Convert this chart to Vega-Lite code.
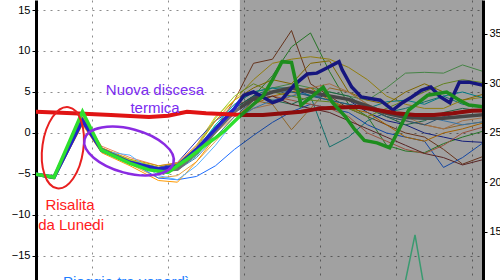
{
"$schema": "https://vega.github.io/schema/vega-lite/v6.json",
"width": 447, "height": 280,
"autosize": {"type": "none"},
"padding": {"left": 36, "top": 0, "right": 17, "bottom": 0},
"background": "white",
"config": {"view": {"stroke": null}},
"datasets": {
"members": [
{"m":"M1","h":6,"v":-5},{"m":"M1","h":12,"v":-5.5},{"m":"M1","h":21,"v":1.5},{"m":"M1","h":27,"v":-2},{"m":"M1","h":36,"v":-3.6},{"m":"M1","h":45,"v":-4.6},{"m":"M1","h":51,"v":-4.2},{"m":"M1","h":57,"v":-2.5},{"m":"M1","h":63,"v":0.5},{"m":"M1","h":69,"v":4},{"m":"M1","h":75,"v":8.5},{"m":"M1","h":81,"v":9},{"m":"M1","h":87,"v":12.5},{"m":"M1","h":93,"v":6},{"m":"M1","h":99,"v":4.5},{"m":"M1","h":105,"v":3},{"m":"M1","h":111,"v":2},{"m":"M1","h":117,"v":1},{"m":"M1","h":123,"v":0},{"m":"M1","h":129,"v":-0.5},{"m":"M1","h":135,"v":-2},{"m":"M1","h":141,"v":-3.8},{"m":"M1","h":150,"v":-2.5},
{"m":"M2","h":6,"v":-5.1},{"m":"M2","h":12,"v":-5.6},{"m":"M2","h":21,"v":1.8},{"m":"M2","h":27,"v":-2.1},{"m":"M2","h":36,"v":-3.4},{"m":"M2","h":45,"v":-4.4},{"m":"M2","h":51,"v":-4},{"m":"M2","h":57,"v":-2},{"m":"M2","h":63,"v":0.8},{"m":"M2","h":69,"v":3},{"m":"M2","h":75,"v":4.5},{"m":"M2","h":81,"v":7},{"m":"M2","h":87,"v":10.5},{"m":"M2","h":93,"v":12.2},{"m":"M2","h":99,"v":7.5},{"m":"M2","h":105,"v":3.5},{"m":"M2","h":111,"v":2},{"m":"M2","h":117,"v":-1.5},{"m":"M2","h":123,"v":-2.2},{"m":"M2","h":129,"v":-2.4},{"m":"M2","h":135,"v":-1.3},{"m":"M2","h":141,"v":-0.5},{"m":"M2","h":150,"v":0.5},
{"m":"M3","h":6,"v":-5},{"m":"M3","h":12,"v":-5.4},{"m":"M3","h":21,"v":1.2},{"m":"M3","h":27,"v":-2.2},{"m":"M3","h":36,"v":-3.7},{"m":"M3","h":45,"v":-4.8},{"m":"M3","h":51,"v":-4.5},{"m":"M3","h":57,"v":-2.8},{"m":"M3","h":63,"v":0},{"m":"M3","h":69,"v":2.5},{"m":"M3","h":75,"v":4.5},{"m":"M3","h":81,"v":5.5},{"m":"M3","h":87,"v":5.5},{"m":"M3","h":93,"v":4.5},{"m":"M3","h":99,"v":-1.7},{"m":"M3","h":105,"v":-0.5},{"m":"M3","h":111,"v":1.5},{"m":"M3","h":117,"v":2.5},{"m":"M3","h":123,"v":3},{"m":"M3","h":129,"v":3.8},{"m":"M3","h":135,"v":4.5},{"m":"M3","h":141,"v":3.5},{"m":"M3","h":150,"v":3},
{"m":"M4","h":6,"v":-4.9},{"m":"M4","h":12,"v":-5.3},{"m":"M4","h":21,"v":1.4},{"m":"M4","h":27,"v":-2},{"m":"M4","h":36,"v":-3.8},{"m":"M4","h":45,"v":-5.5},{"m":"M4","h":51,"v":-5.2},{"m":"M4","h":57,"v":-3.5},{"m":"M4","h":63,"v":-1},{"m":"M4","h":69,"v":1.5},{"m":"M4","h":75,"v":4},{"m":"M4","h":81,"v":3.5},{"m":"M4","h":87,"v":0.4},{"m":"M4","h":93,"v":3},{"m":"M4","h":99,"v":5.5},{"m":"M4","h":105,"v":5},{"m":"M4","h":111,"v":3.5},{"m":"M4","h":117,"v":2},{"m":"M4","h":123,"v":1.5},{"m":"M4","h":129,"v":1},{"m":"M4","h":135,"v":0.5},{"m":"M4","h":141,"v":1},{"m":"M4","h":150,"v":1.5},
{"m":"M5","h":6,"v":-5},{"m":"M5","h":12,"v":-5.5},{"m":"M5","h":21,"v":2},{"m":"M5","h":27,"v":-1.8},{"m":"M5","h":36,"v":-3.3},{"m":"M5","h":45,"v":-4.2},{"m":"M5","h":51,"v":-3.8},{"m":"M5","h":57,"v":-1.5},{"m":"M5","h":63,"v":2},{"m":"M5","h":69,"v":4},{"m":"M5","h":75,"v":6.5},{"m":"M5","h":81,"v":8.5},{"m":"M5","h":87,"v":9},{"m":"M5","h":93,"v":9.3},{"m":"M5","h":99,"v":9},{"m":"M5","h":105,"v":8},{"m":"M5","h":111,"v":6.5},{"m":"M5","h":117,"v":4.5},{"m":"M5","h":123,"v":3.5},{"m":"M5","h":129,"v":3},{"m":"M5","h":135,"v":3},{"m":"M5","h":141,"v":4},{"m":"M5","h":150,"v":4.5},
{"m":"M6","h":6,"v":-5},{"m":"M6","h":12,"v":-5.4},{"m":"M6","h":21,"v":1.6},{"m":"M6","h":27,"v":-2},{"m":"M6","h":36,"v":-3.5},{"m":"M6","h":45,"v":-4.3},{"m":"M6","h":51,"v":-4},{"m":"M6","h":57,"v":-2},{"m":"M6","h":63,"v":1},{"m":"M6","h":69,"v":3.5},{"m":"M6","h":75,"v":5},{"m":"M6","h":81,"v":5.5},{"m":"M6","h":87,"v":6},{"m":"M6","h":93,"v":5.5},{"m":"M6","h":99,"v":5},{"m":"M6","h":105,"v":4.5},{"m":"M6","h":111,"v":4},{"m":"M6","h":117,"v":5.5},{"m":"M6","h":123,"v":7.3},{"m":"M6","h":129,"v":7.4},{"m":"M6","h":135,"v":7.3},{"m":"M6","h":141,"v":8.3},{"m":"M6","h":150,"v":7.2},
{"m":"M7","h":6,"v":-5},{"m":"M7","h":12,"v":-5.4},{"m":"M7","h":21,"v":1.2},{"m":"M7","h":27,"v":-2.3},{"m":"M7","h":36,"v":-3.5},{"m":"M7","h":45,"v":-5.5},{"m":"M7","h":51,"v":-5.7},{"m":"M7","h":57,"v":-5.3},{"m":"M7","h":63,"v":-4},{"m":"M7","h":69,"v":-2},{"m":"M7","h":75,"v":-0.3},{"m":"M7","h":81,"v":1.3},{"m":"M7","h":87,"v":2.6},{"m":"M7","h":93,"v":3.5},{"m":"M7","h":99,"v":3},{"m":"M7","h":105,"v":2.5},{"m":"M7","h":111,"v":1},{"m":"M7","h":117,"v":0},{"m":"M7","h":123,"v":-0.5},{"m":"M7","h":129,"v":-1},{"m":"M7","h":135,"v":-4.2},{"m":"M7","h":141,"v":-3},{"m":"M7","h":150,"v":-0.5},
{"m":"M8","h":6,"v":-5},{"m":"M8","h":12,"v":-5.5},{"m":"M8","h":21,"v":1.7},{"m":"M8","h":27,"v":-1.9},{"m":"M8","h":36,"v":-3.4},{"m":"M8","h":45,"v":-4.2},{"m":"M8","h":51,"v":-3.6},{"m":"M8","h":57,"v":-1},{"m":"M8","h":63,"v":1.5},{"m":"M8","h":69,"v":3},{"m":"M8","h":75,"v":4.5},{"m":"M8","h":81,"v":5},{"m":"M8","h":87,"v":5.5},{"m":"M8","h":93,"v":4.5},{"m":"M8","h":99,"v":4.5},{"m":"M8","h":105,"v":4},{"m":"M8","h":111,"v":2.5},{"m":"M8","h":117,"v":1.5},{"m":"M8","h":123,"v":1},{"m":"M8","h":129,"v":0},{"m":"M8","h":135,"v":-0.5},{"m":"M8","h":141,"v":-1},{"m":"M8","h":150,"v":-1.2},
{"m":"M9","h":6,"v":-5.1},{"m":"M9","h":12,"v":-5.6},{"m":"M9","h":21,"v":1},{"m":"M9","h":27,"v":-2.4},{"m":"M9","h":36,"v":-4},{"m":"M9","h":45,"v":-5.8},{"m":"M9","h":51,"v":-6},{"m":"M9","h":57,"v":-3.5},{"m":"M9","h":63,"v":-0.5},{"m":"M9","h":69,"v":2},{"m":"M9","h":75,"v":3.5},{"m":"M9","h":81,"v":4.5},{"m":"M9","h":87,"v":5},{"m":"M9","h":93,"v":5.5},{"m":"M9","h":99,"v":4},{"m":"M9","h":105,"v":3},{"m":"M9","h":111,"v":2.5},{"m":"M9","h":117,"v":1},{"m":"M9","h":123,"v":-0.5},{"m":"M9","h":129,"v":-1},{"m":"M9","h":135,"v":0},{"m":"M9","h":141,"v":0.5},{"m":"M9","h":150,"v":1.5},
{"m":"M10","h":6,"v":-5},{"m":"M10","h":12,"v":-5.3},{"m":"M10","h":21,"v":2.2},{"m":"M10","h":27,"v":-1.6},{"m":"M10","h":36,"v":-3},{"m":"M10","h":45,"v":-4},{"m":"M10","h":51,"v":-3.6},{"m":"M10","h":57,"v":-1.5},{"m":"M10","h":63,"v":1.5},{"m":"M10","h":69,"v":3.5},{"m":"M10","h":75,"v":4},{"m":"M10","h":81,"v":4.5},{"m":"M10","h":87,"v":4},{"m":"M10","h":93,"v":3.5},{"m":"M10","h":99,"v":3},{"m":"M10","h":105,"v":2},{"m":"M10","h":111,"v":0},{"m":"M10","h":117,"v":-1},{"m":"M10","h":123,"v":-2},{"m":"M10","h":129,"v":-2.5},{"m":"M10","h":135,"v":-1.5},{"m":"M10","h":141,"v":0},{"m":"M10","h":150,"v":1},
{"m":"M11","h":6,"v":-5},{"m":"M11","h":12,"v":-5.4},{"m":"M11","h":21,"v":1.5},{"m":"M11","h":27,"v":-2},{"m":"M11","h":36,"v":-3.6},{"m":"M11","h":45,"v":-4.5},{"m":"M11","h":51,"v":-4.2},{"m":"M11","h":57,"v":-2.2},{"m":"M11","h":63,"v":1},{"m":"M11","h":69,"v":3.5},{"m":"M11","h":75,"v":5},{"m":"M11","h":81,"v":5.5},{"m":"M11","h":87,"v":5},{"m":"M11","h":93,"v":4.6},{"m":"M11","h":99,"v":4},{"m":"M11","h":105,"v":3.5},{"m":"M11","h":111,"v":3},{"m":"M11","h":117,"v":3.8},{"m":"M11","h":123,"v":4},{"m":"M11","h":129,"v":3.5},{"m":"M11","h":135,"v":4.5},{"m":"M11","h":141,"v":5},{"m":"M11","h":150,"v":4},
{"m":"M12","h":6,"v":-5},{"m":"M12","h":12,"v":-5.5},{"m":"M12","h":21,"v":1.3},{"m":"M12","h":27,"v":-2.1},{"m":"M12","h":36,"v":-3.5},{"m":"M12","h":45,"v":-4.4},{"m":"M12","h":51,"v":-4.1},{"m":"M12","h":57,"v":-2.5},{"m":"M12","h":63,"v":0.5},{"m":"M12","h":69,"v":3},{"m":"M12","h":75,"v":4.5},{"m":"M12","h":81,"v":4},{"m":"M12","h":87,"v":3.5},{"m":"M12","h":93,"v":4.5},{"m":"M12","h":99,"v":5},{"m":"M12","h":105,"v":4.5},{"m":"M12","h":111,"v":3},{"m":"M12","h":117,"v":2},{"m":"M12","h":123,"v":1},{"m":"M12","h":129,"v":1.5},{"m":"M12","h":135,"v":2.5},{"m":"M12","h":141,"v":3},{"m":"M12","h":150,"v":2.5},
{"m":"M13","h":6,"v":-4.9},{"m":"M13","h":12,"v":-5.4},{"m":"M13","h":21,"v":1.9},{"m":"M13","h":27,"v":-1.8},{"m":"M13","h":36,"v":-3.2},{"m":"M13","h":45,"v":-4},{"m":"M13","h":51,"v":-3.7},{"m":"M13","h":57,"v":-1.8},{"m":"M13","h":63,"v":1.5},{"m":"M13","h":69,"v":4},{"m":"M13","h":75,"v":5.5},{"m":"M13","h":81,"v":6.5},{"m":"M13","h":87,"v":6},{"m":"M13","h":93,"v":8.5},{"m":"M13","h":99,"v":8.8},{"m":"M13","h":105,"v":5},{"m":"M13","h":111,"v":4},{"m":"M13","h":117,"v":3.5},{"m":"M13","h":123,"v":5},{"m":"M13","h":129,"v":6},{"m":"M13","h":135,"v":5},{"m":"M13","h":141,"v":4},{"m":"M13","h":150,"v":5},
{"m":"M14","h":6,"v":-5},{"m":"M14","h":12,"v":-5.5},{"m":"M14","h":21,"v":1.6},{"m":"M14","h":27,"v":-2},{"m":"M14","h":36,"v":-3.8},{"m":"M14","h":45,"v":-4.7},{"m":"M14","h":51,"v":-4.4},{"m":"M14","h":57,"v":-2.6},{"m":"M14","h":63,"v":0},{"m":"M14","h":69,"v":2},{"m":"M14","h":75,"v":3},{"m":"M14","h":81,"v":3.5},{"m":"M14","h":87,"v":4.5},{"m":"M14","h":93,"v":5.5},{"m":"M14","h":99,"v":6},{"m":"M14","h":105,"v":5},{"m":"M14","h":111,"v":3.5},{"m":"M14","h":117,"v":2.5},{"m":"M14","h":123,"v":2},{"m":"M14","h":129,"v":1},{"m":"M14","h":135,"v":0.5},{"m":"M14","h":141,"v":1.5},{"m":"M14","h":150,"v":2},
{"m":"M15","h":6,"v":-5},{"m":"M15","h":12,"v":-5.4},{"m":"M15","h":21,"v":1.4},{"m":"M15","h":27,"v":-2},{"m":"M15","h":36,"v":-3.4},{"m":"M15","h":45,"v":-4.3},{"m":"M15","h":51,"v":-4.5},{"m":"M15","h":57,"v":-3},{"m":"M15","h":63,"v":-0.5},{"m":"M15","h":69,"v":2},{"m":"M15","h":75,"v":4},{"m":"M15","h":81,"v":5},{"m":"M15","h":87,"v":5},{"m":"M15","h":93,"v":4.5},{"m":"M15","h":99,"v":4},{"m":"M15","h":105,"v":3.5},{"m":"M15","h":111,"v":3},{"m":"M15","h":117,"v":2},{"m":"M15","h":123,"v":1.5},{"m":"M15","h":129,"v":1},{"m":"M15","h":135,"v":2},{"m":"M15","h":141,"v":2.5},{"m":"M15","h":150,"v":3},
{"m":"M16","h":6,"v":-5},{"m":"M16","h":12,"v":-5.5},{"m":"M16","h":21,"v":1.8},{"m":"M16","h":27,"v":-2},{"m":"M16","h":36,"v":-3.3},{"m":"M16","h":45,"v":-4.2},{"m":"M16","h":51,"v":-3.9},{"m":"M16","h":57,"v":-1.7},{"m":"M16","h":63,"v":1.8},{"m":"M16","h":69,"v":4.5},{"m":"M16","h":75,"v":6},{"m":"M16","h":81,"v":5},{"m":"M16","h":87,"v":4.5},{"m":"M16","h":93,"v":4},{"m":"M16","h":99,"v":3.8},{"m":"M16","h":105,"v":3},{"m":"M16","h":111,"v":2},{"m":"M16","h":117,"v":3},{"m":"M16","h":123,"v":4},{"m":"M16","h":129,"v":5},{"m":"M16","h":135,"v":6},{"m":"M16","h":141,"v":6.5},{"m":"M16","h":150,"v":6},
{"m":"M17","h":6,"v":-5},{"m":"M17","h":12,"v":-5.5},{"m":"M17","h":21,"v":1.5},{"m":"M17","h":27,"v":-2.2},{"m":"M17","h":36,"v":-3.6},{"m":"M17","h":45,"v":-4.5},{"m":"M17","h":51,"v":-4.3},{"m":"M17","h":57,"v":-2.4},{"m":"M17","h":63,"v":0.3},{"m":"M17","h":69,"v":2.5},{"m":"M17","h":75,"v":4},{"m":"M17","h":81,"v":4.5},{"m":"M17","h":87,"v":3.5},{"m":"M17","h":93,"v":3},{"m":"M17","h":99,"v":2.5},{"m":"M17","h":105,"v":1.5},{"m":"M17","h":111,"v":0.5},{"m":"M17","h":117,"v":-0.5},{"m":"M17","h":123,"v":-1.5},{"m":"M17","h":129,"v":-2.5},{"m":"M17","h":135,"v":-3},{"m":"M17","h":141,"v":-3.9},{"m":"M17","h":150,"v":-3},
{"m":"M18","h":6,"v":-5},{"m":"M18","h":12,"v":-5.4},{"m":"M18","h":21,"v":1.3},{"m":"M18","h":27,"v":-2.2},{"m":"M18","h":36,"v":-2.7},{"m":"M18","h":45,"v":-5.2},{"m":"M18","h":51,"v":-5.7},{"m":"M18","h":57,"v":-4},{"m":"M18","h":63,"v":-1.5},{"m":"M18","h":69,"v":1.5},{"m":"M18","h":75,"v":3},{"m":"M18","h":81,"v":4},{"m":"M18","h":87,"v":4.5},{"m":"M18","h":93,"v":5},{"m":"M18","h":99,"v":4.5},{"m":"M18","h":105,"v":4},{"m":"M18","h":111,"v":3},{"m":"M18","h":117,"v":2.5},{"m":"M18","h":123,"v":2},{"m":"M18","h":129,"v":2},{"m":"M18","h":135,"v":1.5},{"m":"M18","h":141,"v":1},{"m":"M18","h":150,"v":1.5}
],
"mean": [
{"h":6,"v":-5},{"h":12,"v":-5.4},{"h":21,"v":1.6},{"h":27,"v":-2},{"h":36,"v":-3.6},{"h":45,"v":-4.6},{"h":51,"v":-4.4},{"h":57,"v":-2.4},{"h":63,"v":0.2},{"h":69,"v":2.6},{"h":75,"v":4.2},{"h":81,"v":5},{"h":87,"v":5.5},{"h":93,"v":5},{"h":99,"v":4.5},{"h":105,"v":4.1},{"h":111,"v":3.3},{"h":117,"v":2.4},{"h":123,"v":1.9},{"h":129,"v":1.8},{"h":135,"v":1.8},{"h":141,"v":2},{"h":150,"v":2.3}
],
"ctrl": [
{"h":6,"v":-5},{"h":12,"v":-5.4},{"h":21,"v":1.5},{"h":27,"v":-2.1},{"h":36,"v":-3.6},{"h":45,"v":-4.4},{"h":51,"v":-4},{"h":57,"v":-2},{"h":63,"v":0.5},{"h":69,"v":3},{"h":72,"v":4.6},{"h":75,"v":5},{"h":77,"v":4.6},{"h":81,"v":3.7},{"h":84,"v":4.1},{"h":88,"v":5.9},{"h":92,"v":7.2},{"h":95,"v":7.3},{"h":98,"v":7.9},{"h":102,"v":8.7},{"h":103,"v":7.7},{"h":106,"v":5.6},{"h":109,"v":4.4},{"h":115,"v":4},{"h":119,"v":2.8},{"h":122,"v":3.7},{"h":125,"v":4.4},{"h":128,"v":5.2},{"h":131,"v":5.6},{"h":134,"v":4.4},{"h":137,"v":3.7},{"h":140,"v":6.2},{"h":143,"v":6.2},{"h":150,"v":5.6}
],
"clim": [
{"h":6,"v":2.6},{"h":18,"v":2.4},{"h":30,"v":2.2},{"h":42,"v":1.95},{"h":48,"v":2.1},{"h":54,"v":2.6},{"h":60,"v":2.4},{"h":72,"v":2.2},{"h":78,"v":2.2},{"h":90,"v":2.6},{"h":96,"v":3},{"h":102,"v":3.1},{"h":108,"v":3.2},{"h":114,"v":2.8},{"h":120,"v":2.4},{"h":126,"v":2.2},{"h":132,"v":2.2},{"h":138,"v":2.4},{"h":144,"v":2.7},{"h":150,"v":2.8}
],
"oper": [
{"h":6,"v":-5},{"h":12,"v":-5.4},{"h":21,"v":2.6},{"h":27,"v":-2.1},{"h":36,"v":-3.7},{"h":42,"v":-4.5},{"h":48,"v":-4.8},{"h":51,"v":-4},{"h":54,"v":-3.2},{"h":57,"v":-2.3},{"h":60,"v":-1.4},{"h":63,"v":-0.6},{"h":66,"v":0.3},{"h":70,"v":1.8},{"h":75,"v":3.5},{"h":78,"v":4.5},{"h":81,"v":6.5},{"h":84,"v":8.7},{"h":87,"v":8.6},{"h":90,"v":3.4},{"h":93,"v":4.3},{"h":97,"v":5.6},{"h":100,"v":3.7},{"h":104,"v":2},{"h":107,"v":0.4},{"h":110,"v":-0.9},{"h":114,"v":-1.2},{"h":118,"v":-1.8},{"h":124,"v":2.8},{"h":130,"v":4.6},{"h":136,"v":5},{"h":140,"v":4},{"h":143,"v":3.4},{"h":150,"v":3.1}
],
"spike": [
{"h":120,"p":5.5},{"h":126,"p":14.7},{"h":131,"p":5.5}
]
},
"layer": [
{
"encoding": {
"x": {"field": "h", "type": "quantitative", "scale": {"domain": [6.32, 147.47], "nice": false, "zero": false},
"axis": {"values": [24, 48, 72, 96, 120, 144], "grid": true, "gridColor": "#8c8c8c", "gridDash": [2, 5], "labels": false, "ticks": false, "domain": false, "title": null, "zindex": 0}}
},
"layer": [
{"data": {"name": "members"}, "mark": {"type": "line", "clip": true, "strokeWidth": 1},
"encoding": {
"y": {"field": "v", "type": "quantitative", "scale": {"domain": [-17.93, 16.22], "nice": false, "zero": false},
"axis": {"values": [-15, -10, -5, 0, 5, 10, 15], "grid": true, "gridColor": "#8c8c8c", "gridDash": [2, 5], "domainColor": "black", "domainWidth": 3, "tickColor": "black", "tickSize": 4, "labelFontSize": 11, "labelColor": "black", "labelFont": "Liberation Sans", "labelPadding": 2, "labelOverlap": false, "title": null, "zindex": 0}},
"color": {"field": "m", "type": "nominal", "legend": null,
"scale": {"domain": ["M1","M2","M3","M4","M5","M6","M7","M8","M9","M10","M11","M12","M13","M14","M15","M16","M17","M18"],
"range": ["#a0522d","#3cb83c","#20b2aa","#e0a040","#e6c619","#6fd06f","#1e6eff","#2030c0","#ff9a00","#f08060","#00c0d0","#2e9e6e","#c8a000","#ffb070","#4682b4","#9acd32","#8b3a3a","#5ab4ff"]}}
}},
{"data": {"name": "mean"}, "mark": {"type": "line", "clip": true, "strokeWidth": 3.5, "color": "#707070"},
"encoding": {"y": {"field": "v", "type": "quantitative", "scale": {"domain": [-17.93, 16.22], "nice": false, "zero": false}}}},
{"data": {"name": "ctrl"}, "mark": {"type": "line", "clip": true, "strokeWidth": 3.5, "color": "#2323c8"},
"encoding": {"y": {"field": "v", "type": "quantitative", "scale": {"domain": [-17.93, 16.22], "nice": false, "zero": false}}}},
{"data": {"name": "clim"}, "mark": {"type": "line", "clip": true, "strokeWidth": 4, "color": "#e01414"},
"encoding": {"y": {"field": "v", "type": "quantitative", "scale": {"domain": [-17.93, 16.22], "nice": false, "zero": false}}}},
{"data": {"name": "oper"}, "mark": {"type": "line", "clip": true, "strokeWidth": 3.5, "color": "#2ee02e"},
"encoding": {"y": {"field": "v", "type": "quantitative", "scale": {"domain": [-17.93, 16.22], "nice": false, "zero": false}}}},
{"data": {"values": [{"h": 70.7, "h2": 147.47, "v": 16.22, "v2": -17.93}]}, "mark": {"type": "rect", "color": "black", "opacity": 0.37},
"encoding": {"x2": {"field": "h2"}, "y": {"field": "v", "type": "quantitative", "scale": {"domain": [-17.93, 16.22], "nice": false, "zero": false}}, "y2": {"field": "v2"}}},
{"data": {"values": [{"h": 14.8, "v": -1.8}]},
"mark": {"type": "point", "filled": false, "stroke": "#e82020", "strokeWidth": 2, "opacity": 1, "size": 6724, "angle": 8,
"shape": "M 0.5 0 C 0.5 0.552 0.276 1 0 1 C -0.276 1 -0.5 0.552 -0.5 0 C -0.5 -0.552 -0.276 -1 0 -1 C 0.276 -1 0.5 -0.552 0.5 0 Z"},
"encoding": {"y": {"field": "v", "type": "quantitative", "scale": {"domain": [-17.93, 16.22], "nice": false, "zero": false}}}},
{"data": {"values": [{"h": 35.7, "v": -2.2}]},
"mark": {"type": "point", "filled": false, "stroke": "#8a2be2", "strokeWidth": 2.5, "opacity": 1, "size": 8464, "angle": 15,
"shape": "M 1 0 C 1 0.265 0.552 0.48 0 0.48 C -0.552 0.48 -1 0.265 -1 0 C -1 -0.265 -0.552 -0.48 0 -0.48 C 0.552 -0.48 1 -0.265 1 0 Z"},
"encoding": {"y": {"field": "v", "type": "quantitative", "scale": {"domain": [-17.93, 16.22], "nice": false, "zero": false}}}},
{"data": {"values": [{"h": 43.9, "v": 4.63, "t": "Nuova discesa"}, {"h": 43.9, "v": 2.44, "t": "termica"}]},
"mark": {"type": "text", "color": "#7b2cf0", "font": "Liberation Sans", "fontSize": 15, "align": "center", "baseline": "alphabetic"},
"encoding": {"y": {"field": "v", "type": "quantitative", "scale": {"domain": [-17.93, 16.22], "nice": false, "zero": false}}, "text": {"field": "t"}}},
{"data": {"values": [{"h": 17.05, "v": -9.39, "t": "Risalita"}, {"h": 17.4, "v": -11.83, "t": "da Lunedi"}]},
"mark": {"type": "text", "color": "#ff2020", "font": "Liberation Sans", "fontSize": 15, "align": "center", "baseline": "alphabetic"},
"encoding": {"y": {"field": "v", "type": "quantitative", "scale": {"domain": [-17.93, 16.22], "nice": false, "zero": false}}, "text": {"field": "t"}}},
{"data": {"values": [{"h": 14.84, "v": -18.78, "t": "Pioggia tra venerdì"}]},
"mark": {"type": "text", "color": "#1e7fff", "font": "Liberation Sans", "fontSize": 15, "align": "left", "baseline": "alphabetic"},
"encoding": {"y": {"field": "v", "type": "quantitative", "scale": {"domain": [-17.93, 16.22], "nice": false, "zero": false}}, "text": {"field": "t"}}}
]
},
{"data": {"name": "spike"}, "mark": {"type": "line", "clip": true, "strokeWidth": 1.5, "color": "#3a9a70"},
"encoding": {
"x": {"field": "h", "type": "quantitative", "scale": {"domain": [6.32, 147.47], "nice": false, "zero": false}},
"y": {"field": "p", "type": "quantitative", "scale": {"domain": [10.15, 38.43], "nice": false, "zero": false},
"axis": {"orient": "right", "values": [10, 15, 20, 25, 30, 35], "grid": false, "domainColor": "black", "domainWidth": 3, "tickColor": "black", "tickSize": 4, "labelFontSize": 11, "labelColor": "black", "labelFont": "Liberation Sans", "labelPadding": 2, "labelOverlap": false, "title": null, "zindex": 1}}
}}
],
"resolve": {"scale": {"y": "independent"}, "axis": {"y": "independent"}}
}
